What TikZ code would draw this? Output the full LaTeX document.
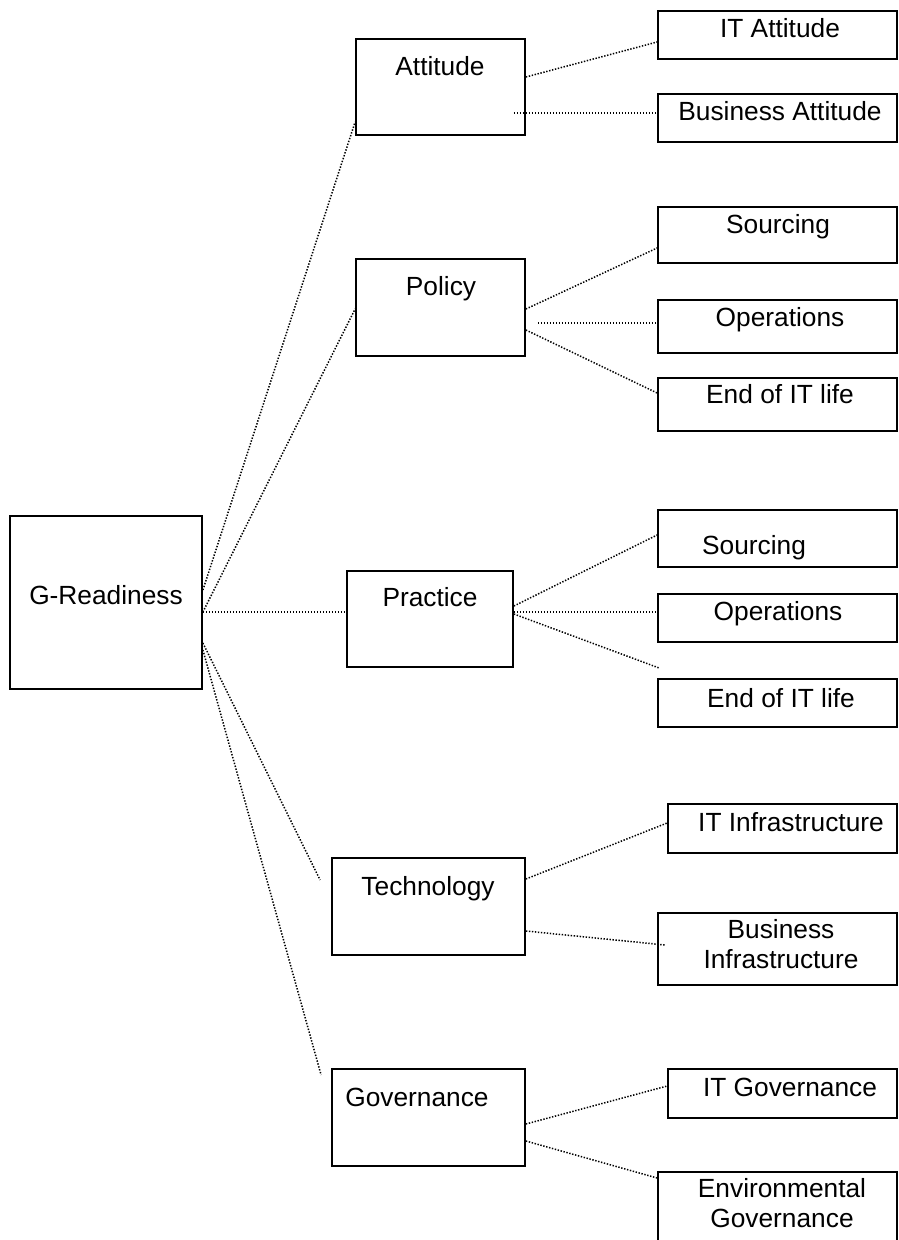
\documentclass[tikz,border=0pt]{standalone}
\usepackage{fontspec}
\setmainfont{Liberation Sans}
\begin{document}
\begin{tikzpicture}[x=1pt,y=-1pt,
  bx/.style={draw, line width=1.8pt, inner sep=0pt, rectangle},
  lbl/.style={font=\fontsize{26.3}{30}\selectfont, inner sep=0pt, anchor=base, align=center},
  con/.style={line width=1.5pt, dash pattern=on 1.4pt off 1.6pt}]
\useasboundingbox (0,0) rectangle (899,1240);
% boxes
\node[bx, minimum width=192pt, minimum height=173pt] (g) at (106,602.5) {};
\node[bx, minimum width=169pt, minimum height=96pt] (att) at (440.5,87) {};
\node[bx, minimum width=239pt, minimum height=48pt] (itatt) at (777.5,35) {};
\node[bx, minimum width=239pt, minimum height=48pt] (busatt) at (777.5,118) {};
\node[bx, minimum width=169pt, minimum height=97pt] (pol) at (440.5,307.5) {};
\node[bx, minimum width=239pt, minimum height=56pt] (src1) at (777.5,235) {};
\node[bx, minimum width=239pt, minimum height=53pt] (ops1) at (777.5,326.5) {};
\node[bx, minimum width=239pt, minimum height=53pt] (end1) at (777.5,404.5) {};
\node[bx, minimum width=166pt, minimum height=96pt] (prac) at (430,619) {};
\node[bx, minimum width=239pt, minimum height=57pt] (src2) at (777.5,538.5) {};
\node[bx, minimum width=239pt, minimum height=48pt] (ops2) at (777.5,618) {};
\node[bx, minimum width=239pt, minimum height=48pt] (end2) at (777.5,703) {};
\node[bx, minimum width=193pt, minimum height=97pt] (tech) at (428.5,906.5) {};
\node[bx, minimum width=229pt, minimum height=49pt] (itinf) at (782.5,828.5) {};
\node[bx, minimum width=239pt, minimum height=72pt] (businf) at (777.5,949) {};
\node[bx, minimum width=193pt, minimum height=97pt] (gov) at (428.5,1117.5) {};
\node[bx, minimum width=229pt, minimum height=49pt] (itgov) at (782.5,1093.5) {};
\node[bx, minimum width=239pt, minimum height=80pt] (envgov) at (777.5,1212) {};
% labels
\node[lbl] (g-t) at (106,604) {G-Readiness};
\node[lbl] (att-t) at (440,75) {Attitude};
\node[lbl] (itatt-t) at (780,37) {IT Attitude};
\node[lbl] (busatt-t) at (780,120) {Business Attitude};
\node[lbl] (pol-t) at (441,295) {Policy};
\node[lbl] (src1-t) at (778,233) {Sourcing};
\node[lbl] (ops1-t) at (780,326) {Operations};
\node[lbl] (end1-t) at (780,403) {End of IT life};
\node[lbl] (prac-t) at (430,606) {Practice};
\node[lbl] (src2-t) at (754,554) {Sourcing};
\node[lbl] (ops2-t) at (778,620) {Operations};
\node[lbl] (end2-t) at (781,707) {End of IT life};
\node[lbl] (tech-t) at (428,895) {Technology};
\node[lbl] (itinf-t) at (791,831) {IT Infrastructure};
\node[lbl, anchor=north] (businf-t) at (781,919) {Business\\Infrastructure};
\node[lbl] (gov-t) at (417,1106) {Governance};
\node[lbl] (itgov-t) at (790,1096) {IT Governance};
\node[lbl, anchor=north] (envgov-t) at (782,1178) {Environmental\\Governance};
% connectors
\draw[con] ([yshift=12.5pt]g.east) -- ([yshift=-35pt]att.west);
\draw[con] ([yshift=-9.5pt]g.east) -- ([yshift=-1.5pt]pol.west);
\draw[con] ([yshift=-9.5pt]g.east) -- ([yshift=7pt]prac.west);
\draw[con] ([yshift=-40.5pt]g.east) -- ([xshift=-11pt,yshift=26.5pt]tech.west);
\draw[con] ([yshift=-47.5pt]g.east) -- ([xshift=-10pt,yshift=42.5pt]gov.west);
\draw[con] ([yshift=10pt]att.east) -- ([yshift=-7pt]itatt.west);
\draw[con] ([xshift=-12pt,yshift=-26pt]att.east) -- ([yshift=5pt]busatt.west);
\draw[con] ([yshift=-1.5pt]pol.east) -- ([yshift=-13pt]src1.west);
\draw[con] ([xshift=12pt,yshift=-15.5pt]pol.east) -- ([yshift=3.5pt]ops1.west);
\draw[con] ([yshift=-22.5pt]pol.east) -- ([yshift=11.5pt]end1.west);
\draw[con] ([yshift=13pt]prac.east) -- ([yshift=3.5pt]src2.west);
\draw[con] ([yshift=7pt]prac.east) -- ([yshift=6pt]ops2.west);
\draw[con] ([yshift=5pt]prac.east) -- ([xshift=2pt,yshift=35pt]end2.west);
\draw[con] ([yshift=27.5pt]tech.east) -- ([yshift=5.5pt]itinf.west);
\draw[con] ([yshift=-24.5pt]tech.east) -- ([xshift=8pt,yshift=4pt]businf.west);
\draw[con] ([yshift=-6.5pt]gov.east) -- ([yshift=7.5pt]itgov.west);
\draw[con] ([yshift=-23.5pt]gov.east) -- ([yshift=34pt]envgov.west);
\end{tikzpicture}
\end{document}
